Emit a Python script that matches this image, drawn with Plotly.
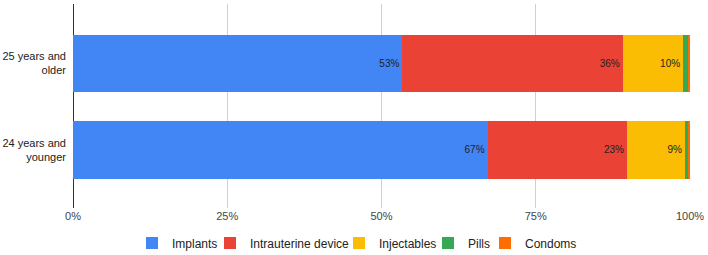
import plotly.graph_objects as go

categories = ["24 years and<br>younger", "25 years and<br>older"]
series_names = ["Implants", "Intrauterine device", "Injectables", "Pills", "Condoms"]
implants = [67.2, 53.4]
iud = [22.6, 35.7]
injectables = [9.4, 9.8]
pills = [0.6, 0.9]
condoms = [0.2, 0.2]
colors = ["#4285F4", "#EA4335", "#FBBC04", "#34A853", "#FF6D01"]
show_labels = [True, True, True, False, False]
legend_widths = [33, 84, 44, 12, 54]

values = [implants, iud, injectables, pills, condoms]

fig = go.Figure()
for name, vals, col, lab, lw in zip(series_names, values, colors, show_labels, legend_widths):
    fig.add_trace(go.Bar(
        y=categories, x=[v / 100 for v in vals], name=name, orientation="h",
        marker=dict(color=col, line=dict(width=0)),
        text=[f"{round(v)}%" for v in vals] if lab else None,
        textposition="inside" if lab else "none",
        insidetextanchor="end",
        textfont=dict(color="#222222", size=10),
        hoverinfo="skip",
        legendwidth=lw,
    ))

fig.update_layout(
    barmode="stack",
    width=708, height=255,
    margin=dict(l=73, r=18, t=4, b=47, autoexpand=False),
    paper_bgcolor="white", plot_bgcolor="white",
    font=dict(family="Liberation Sans, Arial, sans-serif", size=11, color="#222222"),
    bargap=0.34,
    uniformtext=dict(minsize=10, mode="show"),
    legend=dict(orientation="h", x=(132 - 73) / 617, xanchor="left", y=-0.10, yanchor="top",
                font=dict(size=12, color="#222222"), itemwidth=30, traceorder="normal"),
    showlegend=True,
)
fig.update_xaxes(range=[0, 1], tickvals=[0, 0.25, 0.5, 0.75, 1],
                 ticktext=["0%", "25%", "50%", "75%", "100%"],
                 showgrid=True, gridcolor="#d0d0d0", gridwidth=1,
                 zeroline=True, zerolinecolor="#333333", zerolinewidth=1,
                 tickfont=dict(size=11, color="#444444"), ticks="", fixedrange=True,
                 automargin=False)
fig.update_yaxes(range=[-0.671, 1.688], showgrid=False, zeroline=False,
                 tickfont=dict(size=11, color="#222222"), ticks="", ticklabelstandoff=6,
                 automargin=False)

fig.write_html("out.html", config={"displayModeBar": False},
               post_script="document.body.style.margin='0';")
